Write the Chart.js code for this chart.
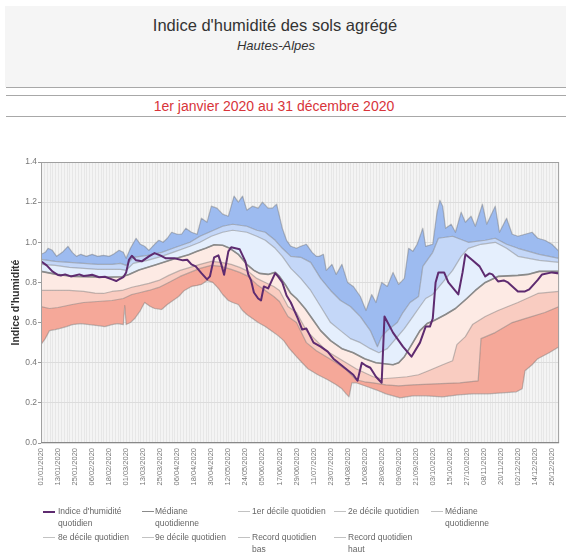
<!DOCTYPE html>
<html>
<head>
<meta charset="utf-8">
<script src="https://cdn.jsdelivr.net/npm/chart.js@4.4.1/dist/chart.umd.min.js"></script>
<style>
html,body{margin:0;padding:0;background:#fff;width:566px;height:553px;overflow:hidden;font-family:"Liberation Sans",Arial,sans-serif;}
#hdr{position:absolute;left:5px;top:6px;width:561px;height:81px;background:#f5f5f5;}
.t1{position:absolute;left:0;width:550px;text-align:center;top:15px;font-size:16.5px;color:#333;line-height:20px;white-space:nowrap;}
.t2{position:absolute;left:0;width:552px;text-align:center;top:38px;font-size:13px;font-style:italic;color:#333;line-height:16px;}
.hl{position:absolute;left:6px;width:560px;height:1px;background:#a8a8a8;}
.t3{position:absolute;left:0;width:548px;text-align:center;top:98px;font-size:14px;color:#d8343a;line-height:17px;white-space:nowrap;}
#wrap{position:absolute;left:0;top:150px;width:566px;height:350px;}
#legend{position:absolute;left:0;top:0;width:566px;height:553px;pointer-events:none;}
.li{position:absolute;font-size:8.5px;line-height:12px;color:#666;white-space:nowrap;}
.ls{position:absolute;width:12px;height:0;}
</style>
</head>
<body>
<div id="hdr"></div>
<div class="t1">Indice d'humidité des sols agrégé</div>
<div class="t2">Hautes-Alpes</div>
<div class="hl" style="top:87px"></div>
<div class="hl" style="top:95px"></div>
<div class="t3">1er janvier 2020 au 31 décembre 2020</div>
<div class="hl" style="top:116px"></div>
<div id="wrap"><canvas id="c"></canvas></div>
<div id="legend"></div>
<script>
// ---------- DATA (day of year 0..365, value) ----------
const xTickLabels = ['01/01/2020','13/01/2020','25/01/2020','06/02/2020','18/02/2020','01/03/2020','13/03/2020','25/03/2020','06/04/2020','18/04/2020','30/04/2020','12/05/2020','24/05/2020','05/06/2020','17/06/2020','29/06/2020','11/07/2020','23/07/2020','04/08/2020','16/08/2020','28/08/2020','09/09/2020','21/09/2020','03/10/2020','15/10/2020','27/10/2020','08/11/2020','20/11/2020','02/12/2020','14/12/2020','26/12/2020'];
const yTickLabels = ['0.0','0.2','0.4','0.6','0.8','1.0','1.2','1.4'];

const indice = [[0,0.905],[4,0.885],[8,0.855],[12,0.837],[14,0.835],[17,0.84],[21,0.83],[24,0.835],[27,0.84],[30,0.832],[33,0.835],[36,0.838],[41,0.826],[45,0.828],[50,0.815],[53,0.807],[55,0.815],[58,0.826],[60,0.85],[62,0.913],[64,0.933],[67,0.91],[71,0.905],[76,0.93],[80,0.946],[84,0.935],[88,0.92],[94,0.92],[100,0.91],[103,0.913],[106,0.89],[109,0.88],[113,0.846],[117,0.815],[119,0.83],[122,0.925],[125,0.935],[127,0.89],[129,0.838],[132,0.955],[134,0.975],[137,0.97],[140,0.965],[144,0.905],[146,0.84],[148,0.81],[150,0.75],[153,0.72],[155,0.71],[157,0.78],[160,0.77],[162,0.80],[165,0.846],[167,0.83],[170,0.80],[173,0.735],[176,0.70],[181,0.62],[184,0.565],[187,0.57],[192,0.50],[197,0.48],[202,0.455],[206,0.42],[213,0.38],[220,0.34],[223,0.31],[226,0.40],[229,0.385],[232,0.375],[236,0.33],[240,0.30],[242,0.63],[248,0.55],[255,0.48],[261,0.43],[267,0.50],[271,0.58],[274,0.58],[276,0.62],[278,0.80],[280,0.85],[284,0.85],[287,0.80],[294,0.74],[297,0.85],[299,0.94],[304,0.91],[309,0.88],[313,0.83],[316,0.845],[318,0.84],[322,0.805],[326,0.81],[329,0.80],[336,0.755],[341,0.755],[344,0.765],[350,0.813],[353,0.84],[360,0.85],[365,0.845]];

const mediane = [[0,0.855],[11,0.84],[23,0.83],[34,0.828],[46,0.826],[57,0.828],[62,0.84],[69,0.862],[81,0.888],[93,0.916],[104,0.938],[110,0.955],[116,0.97],[122,0.988],[128,0.985],[133,0.97],[139,0.94],[145,0.89],[150,0.86],[154,0.845],[160,0.84],[165,0.85],[168,0.83],[172,0.79],[176,0.745],[180,0.72],[186,0.67],[192,0.61],[197,0.56],[204,0.51],[212,0.47],[220,0.45],[228,0.42],[236,0.40],[248,0.39],[252,0.40],[256,0.43],[262,0.50],[267,0.56],[272,0.595],[277,0.61],[285,0.64],[292,0.67],[300,0.72],[306,0.76],[313,0.80],[322,0.83],[336,0.835],[343,0.84],[351,0.855],[365,0.855]];

const decile1 = [[0,0.68],[6,0.67],[12,0.675],[22,0.69],[30,0.70],[40,0.705],[50,0.71],[58,0.72],[64,0.74],[70,0.75],[76,0.76],[83,0.775],[90,0.80],[98,0.83],[105,0.85],[112,0.87],[120,0.885],[127,0.88],[134,0.865],[140,0.85],[146,0.83],[152,0.79],[158,0.76],[164,0.73],[168,0.705],[174,0.63],[180,0.60],[187,0.50],[194,0.46],[201,0.43],[208,0.40],[215,0.365],[222,0.315],[228,0.305],[234,0.30],[243,0.29],[252,0.285],[262,0.29],[278,0.295],[295,0.30],[308,0.31],[310,0.52],[320,0.55],[332,0.60],[341,0.62],[355,0.65],[365,0.68]];

const decile2 = [[0,0.76],[10,0.76],[20,0.76],[30,0.755],[38,0.747],[44,0.745],[50,0.755],[57,0.76],[64,0.776],[70,0.785],[76,0.795],[83,0.81],[90,0.835],[98,0.86],[105,0.875],[112,0.89],[120,0.905],[127,0.90],[134,0.89],[140,0.875],[146,0.855],[152,0.82],[158,0.80],[164,0.78],[168,0.76],[174,0.68],[180,0.65],[187,0.56],[194,0.51],[201,0.46],[208,0.43],[215,0.40],[222,0.37],[228,0.35],[234,0.33],[240,0.32],[250,0.325],[258,0.33],[266,0.34],[273,0.36],[283,0.39],[290,0.41],[293,0.49],[299,0.53],[304,0.59],[313,0.63],[322,0.66],[336,0.70],[350,0.745],[365,0.755]];

const decile8 = [[0,0.89],[10,0.885],[20,0.875],[30,0.87],[40,0.865],[50,0.865],[56,0.865],[60,0.86],[65,0.895],[75,0.91],[85,0.93],[95,0.955],[105,0.98],[112,1.00],[120,1.03],[128,1.05],[135,1.06],[145,1.05],[152,1.03],[158,1.01],[165,0.97],[170,0.93],[176,0.87],[183,0.82],[190,0.76],[197,0.68],[204,0.60],[211,0.56],[218,0.52],[225,0.50],[232,0.47],[238,0.45],[244,0.47],[250,0.52],[256,0.57],[262,0.63],[266,0.67],[271,0.72],[276,0.74],[283,0.80],[290,0.86],[296,0.93],[301,0.97],[310,0.99],[320,1.00],[328,0.97],[336,0.93],[351,0.91],[365,0.90]];

const decile9 = [[0,0.915],[10,0.905],[20,0.90],[30,0.895],[40,0.89],[50,0.89],[56,0.895],[60,0.885],[65,0.925],[75,0.935],[85,0.95],[95,0.975],[105,1.00],[112,1.03],[120,1.055],[128,1.08],[135,1.09],[145,1.08],[152,1.06],[158,1.05],[165,1.01],[170,0.97],[176,0.93],[183,0.925],[190,0.90],[197,0.82],[204,0.76],[211,0.71],[218,0.68],[225,0.63],[232,0.56],[237,0.48],[240,0.53],[244,0.56],[251,0.60],[255,0.65],[260,0.70],[266,0.73],[269,0.88],[276,0.95],[280,1.02],[290,1.03],[301,1.00],[313,1.01],[320,1.02],[328,0.99],[336,0.97],[351,0.94],[365,0.92]];

const recordBas = [[0,0.49],[3,0.52],[6,0.56],[10,0.565],[13,0.57],[18,0.58],[22,0.59],[28,0.595],[34,0.59],[40,0.585],[45,0.58],[50,0.59],[54,0.595],[58,0.59],[59,0.685],[60,0.59],[63,0.60],[66,0.62],[70,0.66],[73,0.70],[77,0.68],[80,0.67],[85,0.665],[89,0.69],[92,0.705],[97,0.73],[101,0.76],[106,0.78],[110,0.785],[113,0.79],[117,0.81],[121,0.80],[125,0.77],[128,0.74],[132,0.71],[135,0.70],[139,0.69],[142,0.66],[145,0.64],[149,0.62],[153,0.60],[158,0.58],[162,0.56],[167,0.535],[171,0.51],[175,0.47],[180,0.43],[184,0.40],[188,0.37],[195,0.34],[202,0.315],[208,0.29],[212,0.27],[215,0.245],[217,0.23],[219,0.30],[222,0.30],[230,0.28],[236,0.265],[243,0.245],[253,0.225],[262,0.235],[271,0.235],[283,0.23],[294,0.24],[304,0.245],[315,0.245],[325,0.25],[335,0.255],[339,0.27],[341,0.36],[346,0.39],[350,0.42],[358,0.45],[365,0.48]];

const recordHaut = [[0,0.94],[3,0.95],[5,0.97],[8,0.96],[11,0.93],[15,0.95],[19,0.98],[22,0.95],[25,0.93],[28,0.94],[32,0.93],[36,0.94],[40,0.93],[44,0.935],[48,0.93],[51,0.94],[55,0.96],[58,0.95],[60,0.92],[63,0.97],[67,1.02],[70,0.99],[73,0.98],[76,0.96],[80,0.99],[83,1.01],[86,1.00],[89,1.02],[92,1.05],[96,1.04],[99,1.04],[102,1.07],[106,1.05],[110,1.04],[113,1.12],[117,1.10],[120,1.18],[124,1.17],[128,1.14],[132,1.13],[136,1.23],[139,1.20],[142,1.23],[145,1.16],[149,1.18],[153,1.17],[156,1.20],[160,1.17],[163,1.17],[166,1.19],[170,1.07],[173,1.01],[176,0.98],[180,0.97],[183,0.98],[187,0.99],[191,0.95],[194,0.93],[196,0.93],[199,0.94],[201,0.86],[205,0.89],[208,0.84],[212,0.89],[216,0.80],[220,0.78],[225,0.73],[229,0.66],[233,0.74],[236,0.70],[240,0.80],[244,0.78],[248,0.85],[252,0.79],[256,0.82],[259,0.97],[262,0.955],[265,0.99],[269,1.07],[271,0.98],[276,0.99],[279,1.15],[281,1.21],[283,1.18],[285,1.07],[289,1.09],[292,1.05],[296,1.15],[299,1.10],[303,1.13],[306,1.08],[311,1.19],[314,1.09],[320,1.18],[323,1.05],[328,1.12],[332,1.04],[336,1.03],[341,1.04],[346,1.05],[350,1.02],[355,1.01],[360,0.99],[365,0.955]];

const legendLabels = [
  ["Indice d'humidité","quotidien"],
  ["Médiane","quotidienne"],
  ["1er décile quotidien"],
  ["2e décile quotidien"],
  ["Médiane","quotidienne"],
  ["8e décile quotidien"],
  ["9e décile quotidien"],
  ["Record quotidien","bas"],
  ["Record quotidien","haut"]
];

// ---------- CHART ----------
const FONT = '"Liberation Sans", Arial, sans-serif';
const pts = a => a.map(p => ({x: p[0], y: p[1]}));
const bandLine = 'rgba(110,110,110,0.42)';
const base = {pointRadius: 0, pointHoverRadius: 0, tension: 0, borderWidth: 1.2, borderColor: bandLine, borderJoinStyle: 'round'};

const datasets = [
  Object.assign({}, base, {label: legendLabels[7].join(' '), data: pts(recordBas), fill: false}),
  Object.assign({}, base, {label: legendLabels[2].join(' '), data: pts(decile1), fill: '-1', backgroundColor: 'rgb(245,168,153)'}),
  Object.assign({}, base, {label: legendLabels[3].join(' '), data: pts(decile2), fill: '-1', backgroundColor: 'rgb(249,204,193)'}),
  Object.assign({}, base, {label: legendLabels[4].join(' '), data: pts(mediane), fill: '-1', backgroundColor: 'rgb(253,234,228)'}),
  Object.assign({}, base, {label: legendLabels[5].join(' '), data: pts(decile8), fill: '-1', backgroundColor: 'rgb(229,239,253)'}),
  Object.assign({}, base, {label: legendLabels[6].join(' '), data: pts(decile9), fill: '-1', backgroundColor: 'rgb(196,215,248)'}),
  Object.assign({}, base, {label: legendLabels[8].join(' '), data: pts(recordHaut), fill: '-1', backgroundColor: 'rgb(157,187,240)'}),
  Object.assign({}, base, {label: legendLabels[1].join(' '), data: pts(mediane), fill: false, borderColor: '#8a8a8a', borderWidth: 1.6, order: -1}),
  Object.assign({}, base, {label: legendLabels[0].join(' '), data: pts(indice), fill: false, borderColor: '#5e2b70', borderWidth: 2, order: -2})
];
// legend order as in the reference: dataset index for each legend slot
const legendOrder = [8, 7, 1, 2, 3, 4, 5, 0, 6];

const plotBg = {
  id: 'plotBg',
  beforeDraw(chart) {
    const {ctx, chartArea: a, scales: {x}} = chart;
    ctx.save();
    ctx.fillStyle = '#f4f4f4';
    ctx.fillRect(a.left, a.top, a.right - a.left, a.bottom - a.top);
    ctx.strokeStyle = '#e7e7e7';
    ctx.lineWidth = 1;
    ctx.beginPath();
    for (let d = 0; d <= 365; d += 2) {
      const px = Math.round(x.getPixelForValue(d)) + 0.5;
      ctx.moveTo(px, a.top); ctx.lineTo(px, a.bottom);
    }
    ctx.stroke();
    ctx.restore();
  },
  afterDraw(chart) {
    const {ctx, chartArea: a} = chart;
    ctx.save();
    ctx.strokeStyle = '#a0a0a0';
    ctx.lineWidth = 1;
    ctx.strokeRect(a.left + 0.5, a.top + 0.5, a.right - a.left - 1, a.bottom - a.top - 1);
    ctx.strokeStyle = '#888';
    ctx.beginPath(); ctx.moveTo(a.left, a.bottom - 0.5); ctx.lineTo(a.right, a.bottom - 0.5); ctx.stroke();
    ctx.restore();
  }
};

const chart = new Chart(document.getElementById('c'), {
  type: 'line',
  data: {datasets},
  plugins: [plotBg],
  options: {
    responsive: true,
    maintainAspectRatio: false,
    devicePixelRatio: 1,
    animation: false,
    events: [],
    layout: {padding: {top: 12, right: 1, left: 0, bottom: 0}},
    plugins: {legend: {display: false}, tooltip: {enabled: false}, title: {display: false}},
    scales: {
      x: {
        type: 'linear', min: 0, max: 365, offset: false,
        ticks: {
          stepSize: 12, autoSkip: false, includeBounds: false, maxRotation: 90, minRotation: 90,
          padding: 5, color: '#777', font: {size: 7.5, family: FONT},
          callback: v => xTickLabels[Math.round(v / 12)] ?? ''
        },
        grid: {display: false, drawTicks: false},
        border: {display: false},
        afterFit: s => { s.height = 57; }
      },
      y: {
        min: 0, max: 1.4,
        ticks: {stepSize: 0.2, padding: 1, color: '#777', font: {size: 8.5, family: FONT},
          callback: v => yTickLabels[Math.round(v / 0.2)] ?? ''},
        grid: {color: '#dcdcdc', tickColor: '#999', tickLength: 3},
        border: {display: false},
        title: {display: true, text: "Indice d'humidité", color: '#333', padding: {top: 10, bottom: 0},
          font: {size: 10.5, weight: 'bold', family: FONT}},
        afterFit: s => { s.width = 41; }
      }
    }
  }
});

// ---------- HTML legend (wrapped labels, grid layout like the reference) ----------
const colLine = [43, 142, 238, 334, 431];
const colText = [58, 155, 252, 348, 445];
const rowTop = [505, 531];
const leg = document.getElementById('legend');
legendOrder.forEach((dsIndex, slot) => {
  const row = slot < 5 ? 0 : 1;
  const col = slot < 5 ? slot : slot - 5;
  const ds = chart.data.datasets[dsIndex];
  const sw = document.createElement('div');
  sw.className = 'ls';
  sw.style.left = colLine[col] + 'px';
  sw.style.top = (rowTop[row] + 5.5) + 'px';
  const w = dsIndex === 8 ? 2 : (dsIndex === 7 ? 1.5 : 1.5);
  const c = dsIndex === 8 ? '#5e2b70' : (dsIndex === 7 ? '#8a8a8a' : 'rgba(110,110,110,0.42)');
  sw.style.borderTop = w + 'px solid ' + c;
  leg.appendChild(sw);
  const t = document.createElement('div');
  t.className = 'li';
  t.style.left = colText[col] + 'px';
  t.style.top = rowTop[row] + 'px';
  const lines = legendLabels[legendOrder.indexOf(dsIndex) === slot ? slot : slot];
  t.innerHTML = lines.map(s => s.replace(/&/g,'&amp;').replace(/</g,'&lt;')).join('<br>');
  leg.appendChild(t);
});
</script>
</body>
</html>
